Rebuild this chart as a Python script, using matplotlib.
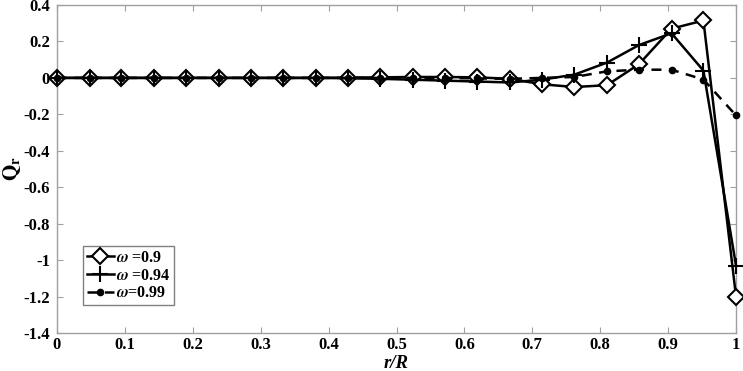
import matplotlib
matplotlib.use("Agg")
import matplotlib.pyplot as plt

plt.rcParams['font.family'] = ['Liberation Serif', 'DejaVu Serif']
plt.rcParams['mathtext.fontset'] = 'stix'
plt.rcParams['font.weight'] = 'bold'

# data
r_R = [0, 0.048, 0.095, 0.143, 0.190, 0.238, 0.286, 0.333, 0.381, 0.429, 0.476,
       0.524, 0.571, 0.619, 0.667, 0.714, 0.762, 0.810, 0.857, 0.905, 0.952, 1.0]
q_090 = [0, 0, 0, 0, 0, 0, 0, 0, 0, 0.002, 0.003,
         0.005, 0.005, 0.003, -0.005, -0.035, -0.05, -0.04, 0.075, 0.27, 0.315, -1.2]
q_094 = [0, 0, 0, 0, 0, 0, 0, 0, 0, -0.002, -0.005,
         -0.01, -0.015, -0.02, -0.025, -0.01, 0.018, 0.084, 0.18, 0.245, 0.04, -1.03]
q_099 = [0, 0, 0, 0, 0, 0, 0, 0, 0, 0, 0,
         0, 0, -0.003, -0.005, 0.0, 0.005, 0.036, 0.045, 0.045, -0.009, -0.206]

fig = plt.figure(figsize=(7.43, 3.71), dpi=100)
ax = fig.add_axes([0.0767, 0.1024, 0.9139, 0.8841])

ax.plot(r_R, q_090, '-', color='black', lw=1.8, marker='D', ms=8, mfc='white',
        mec='black', mew=1.5, label=r'$\omega$ =0.9', zorder=3, clip_on=False)
ax.plot(r_R, q_094, '-', color='black', lw=1.8, marker='+', ms=12, mew=1.5,
        label=r'$\omega$ =0.94', zorder=4, clip_on=False)
ax.plot(r_R, q_099, '--', color='black', lw=1.8, marker='o', ms=4.5,
        dashes=(4, 3), label=r'$\omega$=0.99', zorder=5, clip_on=False)

ax.set_xlim(0, 1)
ax.set_ylim(-1.4, 0.4)
ax.set_xticks([0, 0.1, 0.2, 0.3, 0.4, 0.5, 0.6, 0.7, 0.8, 0.9, 1])
ax.set_xticklabels(['0', '0.1', '0.2', '0.3', '0.4', '0.5', '0.6', '0.7', '0.8', '0.9', '1'])
ax.set_yticks([0.4, 0.2, 0, -0.2, -0.4, -0.6, -0.8, -1, -1.2, -1.4])
ax.set_yticklabels(['0.4', '0.2', '0', '-0.2', '-0.4', '-0.6', '-0.8', '-1', '-1.2', '-1.4'])

for s in ax.spines.values():
    s.set_color('#a0a0a0')
    s.set_linewidth(1.0)
ax.tick_params(direction='in', color='#a0a0a0', labelsize=12, length=4,
               top=True, right=True)
ax.tick_params(axis='x', pad=3)
ax.tick_params(axis='y', pad=5)
for lab in ax.get_xticklabels() + ax.get_yticklabels():
    lab.set_fontweight('bold')

ax.set_xlabel('r/R', fontsize=13.5, fontweight='bold', fontstyle='italic', va='bottom')
ax.xaxis.set_label_coords(0.5, -0.118)
ax.set_ylabel(r'$\mathbf{Q_r}$', fontsize=15)
ax.yaxis.set_label_coords(-0.05, 0.5)

leg = ax.legend(loc='lower left', bbox_to_anchor=(0.038, 0.085), fontsize=11.5,
                handlelength=1.7, handletextpad=0.1, borderpad=0.25,
                labelspacing=0.1, fancybox=False, framealpha=1,
                borderaxespad=0)
leg.get_frame().set_edgecolor('#808080')
leg.get_frame().set_linewidth(1.0)
for t in leg.get_texts():
    t.set_fontweight('bold')

fig.savefig('out.png', dpi=100)
